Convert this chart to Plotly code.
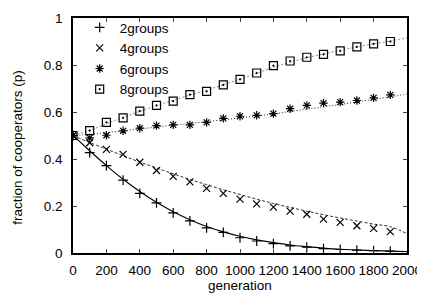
import plotly.graph_objects as go

# --- data ---
gen_pts = [0, 100, 200, 300, 400, 500, 600, 700, 800, 900, 1000,
           1100, 1200, 1300, 1400, 1500, 1600, 1700, 1800, 1900]
gen_fit = gen_pts + [2000]

p2 = [0.500, 0.427, 0.372, 0.310, 0.254, 0.213, 0.171, 0.137, 0.107, 0.088, 0.065,
      0.051, 0.040, 0.030, 0.025, 0.019, 0.015, 0.012, 0.010, 0.008]
p4 = [0.500, 0.469, 0.441, 0.420, 0.386, 0.351, 0.326, 0.303, 0.275, 0.254, 0.229,
      0.209, 0.195, 0.178, 0.165, 0.144, 0.130, 0.116, 0.105, 0.091]
p6 = [0.500, 0.490, 0.501, 0.520, 0.531, 0.542, 0.545, 0.545, 0.556, 0.573, 0.582,
      0.586, 0.593, 0.614, 0.628, 0.638, 0.642, 0.649, 0.660, 0.673]
p8 = [0.500, 0.521, 0.556, 0.575, 0.604, 0.628, 0.646, 0.674, 0.688, 0.715, 0.739,
      0.766, 0.797, 0.817, 0.833, 0.845, 0.860, 0.877, 0.890, 0.900]

fit2 = [0.500, 0.435, 0.372, 0.314, 0.262, 0.216, 0.176, 0.142, 0.113, 0.090, 0.071,
        0.056, 0.044, 0.034, 0.027, 0.021, 0.016, 0.013, 0.010, 0.008, 0.006]
fit4 = [0.500, 0.470, 0.442, 0.414, 0.387, 0.362, 0.337, 0.313, 0.291, 0.269, 0.249,
        0.229, 0.211, 0.194, 0.178, 0.163, 0.149, 0.136, 0.123, 0.112, 0.082]
fit6 = [0.500, 0.505, 0.512, 0.520, 0.528, 0.536, 0.544, 0.551, 0.559, 0.567, 0.575,
        0.583, 0.592, 0.602, 0.612, 0.622, 0.632, 0.643, 0.654, 0.665, 0.676]
fit8 = [0.500, 0.522, 0.550, 0.577, 0.603, 0.627, 0.650, 0.672, 0.693, 0.716, 0.740,
        0.765, 0.790, 0.812, 0.831, 0.847, 0.862, 0.877, 0.890, 0.902, 0.916]

names = ["2groups", "4groups", "6groups", "8groups"]
x_ticks = [0, 200, 400, 600, 800, 1000, 1200, 1400, 1600, 1800, 2000]
y_ticks = [0, 0.2, 0.4, 0.6, 0.8, 1]
y_tick_text = ["0", "0.2", "0.4", "0.6", "0.8", "1"]

series = [p2, p4, p6, p8]
fits = [fit2, fit4, fit6, fit8]
symbols = ["cross-thin-open", "x-thin-open", "asterisk-open", "square-open-dot"]
sizes = [7, 7, 7, 8]
line_styles = [dict(color="black", width=1.1, dash="solid"),
               dict(color="#333333", width=1, dash="3px,2px"),
               dict(color="#222222", width=1, dash="1px,2px"),
               dict(color="#888888", width=1, dash="2px,2px")]

fig = go.Figure()
for f, ls in zip(fits, line_styles):
    fig.add_trace(go.Scatter(x=gen_fit, y=f, mode="lines", line=ls,
                             line_shape="spline", showlegend=False, hoverinfo="skip"))
for s, name, sym, sz in zip(series, names, symbols, sizes):
    fig.add_trace(go.Scatter(x=gen_pts, y=s, mode="markers", name=name,
                             marker=dict(symbol=sym, size=sz, color="black",
                                         line=dict(color="black", width=1.2))))

FONT = "Liberation Sans, Arial, Helvetica, sans-serif"
# the page body adds an 8px offset, so the figure is sized/margined to compensate
fig.update_layout(
    width=417, height=291,
    margin=dict(l=65, r=18, t=4, b=46),
    paper_bgcolor="white", plot_bgcolor="white",
    font=dict(family=FONT, size=13.5, color="black"),
    showlegend=True,
    legend=dict(x=0.02, y=1.025, xanchor="left", yanchor="top",
                bgcolor="rgba(0,0,0,0)", font=dict(size=13.5), tracegroupgap=0,
                itemwidth=30),
    xaxis=dict(range=[0, 2000], tickvals=x_ticks, ticks="inside", ticklen=4,
               tickangle=0, ticklabelstandoff=4, ticklabeloverflow="allow",
               showline=True, linecolor="black", linewidth=1.5, mirror="ticks",
               showgrid=False, zeroline=False),
    yaxis=dict(range=[0, 1], tickvals=y_ticks, ticktext=y_tick_text,
               ticks="inside", ticklen=4, ticklabelstandoff=6,
               ticklabeloverflow="allow",
               showline=True, linecolor="black", linewidth=1.5, mirror="ticks",
               showgrid=False, zeroline=False),
    annotations=[
        dict(text="fraction of cooperators (p)", xref="paper", yref="paper",
             x=-0.16, xshift=-2, y=0.45, textangle=-90, showarrow=False,
             xanchor="center", yanchor="middle", font=dict(size=13.5)),
        dict(text="generation", xref="paper", yref="paper",
             x=0.5, y=-0.14, showarrow=False,
             xanchor="center", yanchor="middle", font=dict(size=13.5)),
    ],
)

fig.write_html("out.html")
